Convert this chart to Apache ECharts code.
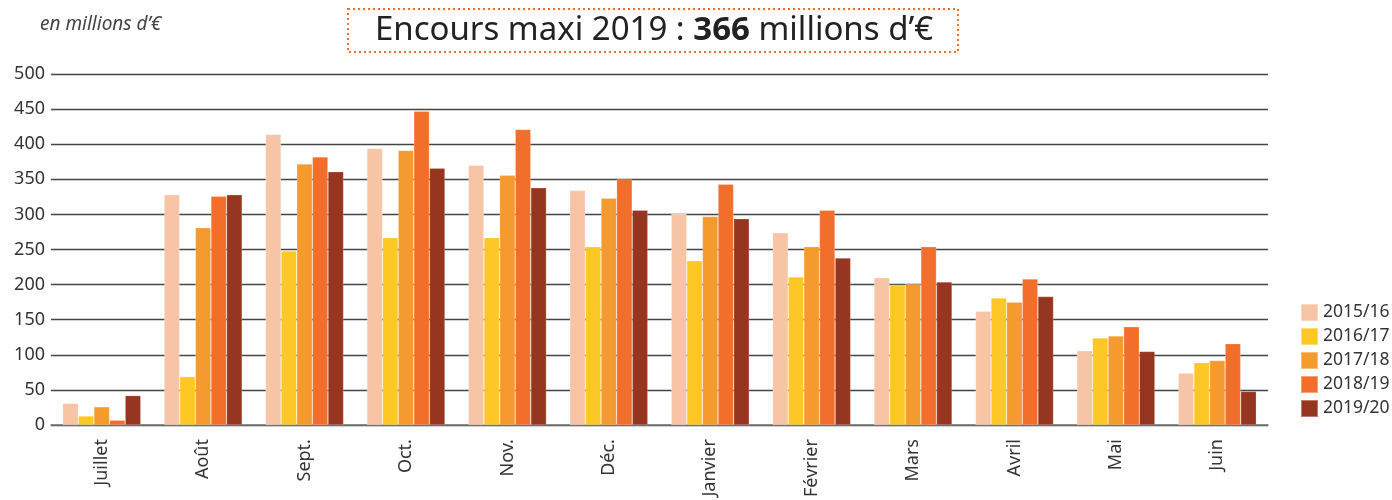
<!DOCTYPE html>
<html>
<head>
<meta charset="utf-8">
<script src="https://cdn.jsdelivr.net/npm/echarts@6/dist/echarts.min.js"></script>
<style>
  html, body {margin: 0; padding: 0; background: #fff;}
  #main {width: 1392px; height: 500px;}
</style>
</head>
<body>
<div id="main"></div>
<script>
const months = ['Juillet', 'Août', 'Sept.', 'Oct.', 'Nov.', 'Déc.', 'Janvier', 'Février', 'Mars', 'Avril', 'Mai', 'Juin'];
const seasons = ['2015/16', '2016/17', '2017/18', '2018/19', '2019/20'];
const colors = ['#F7C5A5', '#FDC826', '#F59A2E', '#F16F2A', '#963620'];

const v2015 = [31, 328, 414, 394, 370, 334, 301, 274, 210, 162, 106, 74];
const v2016 = [13, 69, 248, 267, 267, 254, 234, 211, 200, 181, 124, 89];
const v2017 = [26, 281, 372, 391, 356, 323, 297, 254, 201, 175, 127, 92];
const v2018 = [7, 326, 382, 447, 421, 350, 343, 306, 254, 208, 140, 116];
const v2019 = [42, 328, 361, 366, 338, 306, 294, 238, 204, 183, 105, 48];
const values = [v2015, v2016, v2017, v2018, v2019];

const yTicks = [0, 500, 50];

const font = '"Noto Sans", Lato, sans-serif';
const chart = echarts.init(document.getElementById('main'));

chart.setOption({
  animation: false,
  textStyle: {fontFamily: font},
  grid: {left: 51, right: 124, top: 74, bottom: 74, containLabel: false},
  legend: {
    orient: 'vertical',
    left: 1295,
    top: 298,
    itemWidth: 17,
    itemHeight: 17,
    itemGap: 5,
    icon: 'rect',
    textStyle: {fontSize: 17.5, color: '#333', fontFamily: font},
    data: seasons
  },
  xAxis: {
    type: 'category',
    data: months,
    axisLine: {lineStyle: {color: '#777', width: 1.5}},
    axisTick: {show: false},
    axisLabel: {rotate: 90, fontSize: 18, color: '#333', margin: 14, fontFamily: font}
  },
  yAxis: {
    type: 'value',
    min: yTicks[0],
    max: yTicks[1],
    interval: yTicks[2],
    axisLine: {show: false},
    axisTick: {show: false},
    axisLabel: {fontSize: 18, color: '#333', margin: 6, fontFamily: font},
    splitLine: {lineStyle: {color: '#444', width: 1.3}}
  },
  series: seasons.map((s, i) => ({
    name: s,
    type: 'bar',
    data: values[i],
    barGap: '0%',
    barCategoryGap: '23%',
    itemStyle: {color: colors[i], borderColor: 'rgba(255,255,255,0.35)', borderWidth: 0.6}
  })),
  graphic: [
    {
      type: 'text',
      left: 40,
      top: 15,
      style: {text: 'en millions d’€', font: 'italic 19px "Noto Sans"', fill: '#444'}
    },
    {
      type: 'rect',
      shape: {x: 348, y: 9, width: 610, height: 43},
      style: {fill: 'none', stroke: '#F16F2A', lineWidth: 2, lineDash: [2, 3]}
    },
    {
      type: 'text',
      x: 654,
      y: 31,
      style: {
        text: '{n|Encours maxi 2019 : }{b|366}{n| millions d’€}',
        align: 'center',
        verticalAlign: 'middle',
        rich: {
          n: {fontSize: 33, fontFamily: font, fill: '#222', color: '#222'},
          b: {fontSize: 33, fontFamily: font, fontWeight: 'bold', fill: '#222', color: '#222'}
        }
      }
    }
  ]
});
</script>
</body>
</html>
